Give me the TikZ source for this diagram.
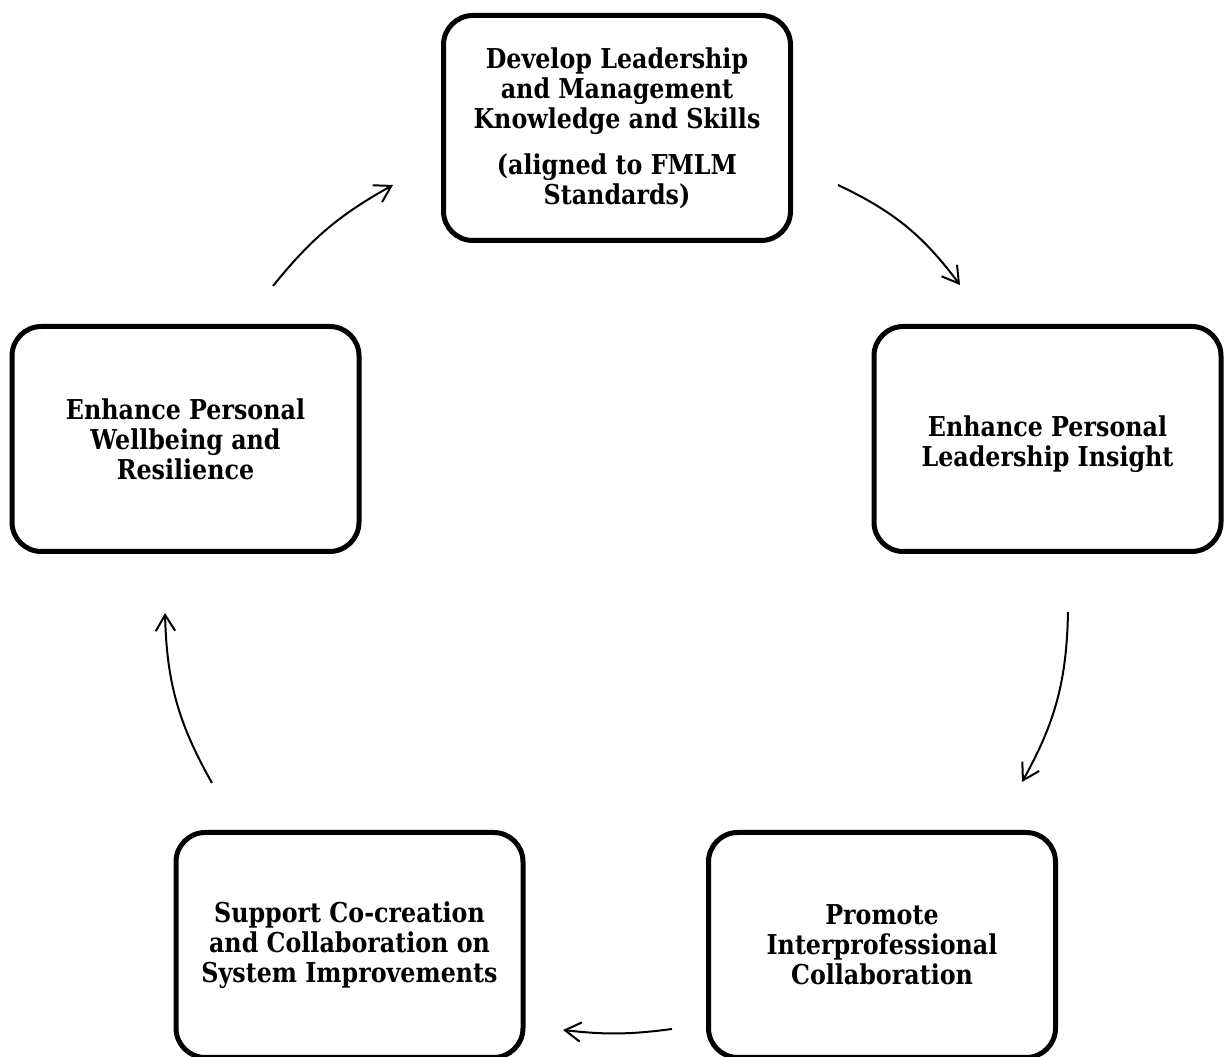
\documentclass[tikz,border=0pt]{standalone}
\usepackage{fontspec}
\newfontfamily\boxfont[FakeStretch=0.87]{DejaVu Serif}
\usetikzlibrary{arrows.meta}
\begin{document}
\begin{tikzpicture}[x=0.75pt,y=0.75pt,
  stage/.style={draw=black, line width=3.75pt, rounded corners=22pt,
    minimum width=347*0.75pt, minimum height=225*0.75pt, align=center,
    inner sep=0pt, font=\boxfont\bfseries\fontsize{20.5}{22.5}\selectfont},
  flow/.style={line width=1.5pt, -{Straight Barb[length=12pt,width=14.5pt,line width=1.5pt]}}]
\useasboundingbox (0,0) rectangle (1225,1057);
\clip (0,0) rectangle (1225,1057);
\fill[white] (0,0) rectangle (1225,1057);

\node[stage] (dev) at (617,929) {Develop Leadership\\and Management\\Knowledge and Skills\\[12pt](aligned to FMLM\\Standards)};
\node[stage] (ins) at (1047.5,618) {\rule{0pt}{24pt}Enhance Personal\\Leadership Insight};
\node[stage] (well) at (185.5,618) {Enhance Personal\\Wellbeing and\\Resilience};
\node[stage] (sup) at (349.5,112) {Support Co-creation\\and Collaboration on\\System Improvements};
\node[stage] (pro) at (882,112) {Promote\\Interprofessional\\Collaboration};

\coordinate (a1s) at (273,771);
\coordinate (a1e) at (393,872);
\coordinate (a2s) at (838,872);
\coordinate (a2e) at (960,772);
\coordinate (a3s) at (1068,445);
\coordinate (a3e) at (1022,275);
\coordinate (a4s) at (672,28);
\coordinate (a4e) at (563,27);
\coordinate (a5s) at (212,274);
\coordinate (a5e) at (165,444);

\draw[flow] (a1s) to[bend left=11] (a1e);
\draw[flow] (a2s) to[bend left=14] (a2e);
\draw[flow] (a3s) to[bend left=14] (a3e);
\draw[flow] (a4s) to[bend left=7] (a4e);
\draw[flow] (a5s) to[bend left=14] (a5e);
\end{tikzpicture}
\end{document}
